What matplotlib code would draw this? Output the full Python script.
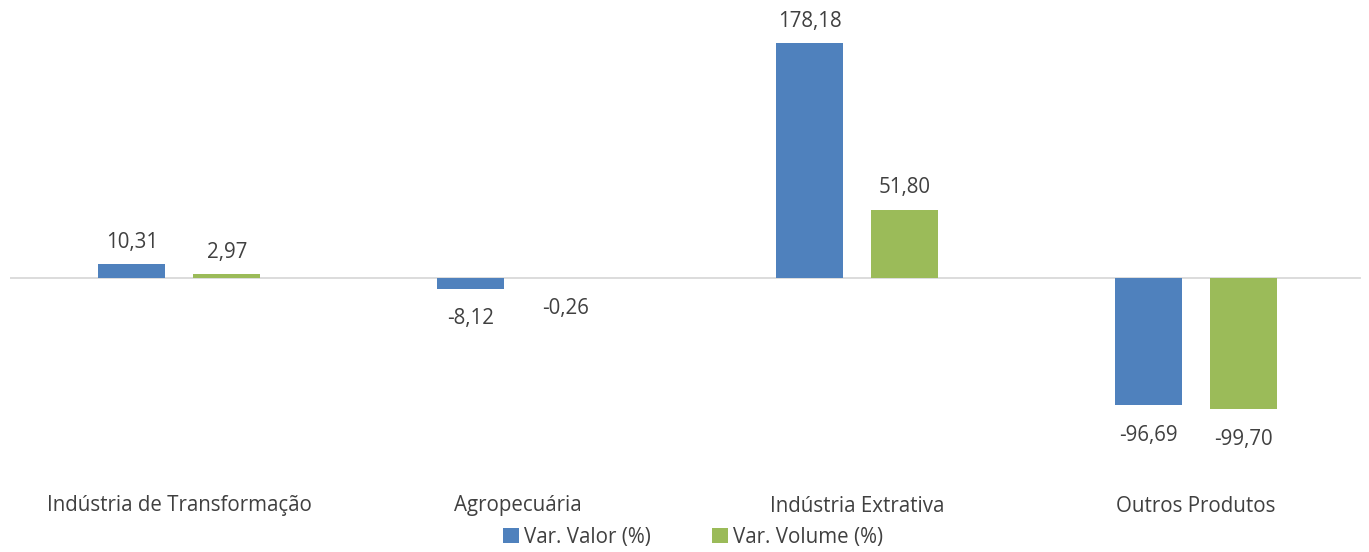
import matplotlib
matplotlib.use("Agg")
import matplotlib.pyplot as plt
import numpy as np

categories = ["Indústria de Transformação", "Agropecuária", "Indústria Extrativa", "Outros Produtos"]
var_valor = [10.31, -8.12, 178.18, -96.69]
var_volume = [2.97, -0.26, 51.80, -99.70]
series_names = ["Var. Valor (%)", "Var. Volume (%)"]

plt.rcParams['font.family'] = ['Open Sans', 'DejaVu Sans']
W, H = 1369, 552
fig = plt.figure(figsize=(W/100, H/100), dpi=100)
AX_L, AX_W = 10, 1355
ax = fig.add_axes([AX_L/W, 1-460/H, AX_W/W, 450/H])

x = np.arange(len(categories))
bw = 0.198
off = 0.14
blue = "#4F81BD"
green = "#9BBB59"
tc = "#404040"
b1 = ax.bar(x - off, var_valor, bw, color=blue, label=series_names[0], zorder=3)
b2 = ax.bar(x + off, var_volume, bw, color=green, label=series_names[1], zorder=3)
ax.set_xlim(-0.5, 3.5)
ax.set_ylim(-138, 203)
ax.plot([-0.5, 3.485], [0, 0], color="#D9D9D9", lw=1.3, zorder=2)
for s in ax.spines.values():
    s.set_visible(False)
ax.set_xticks([])
ax.set_yticks([])

fs = 14.8
for bars, vals in [(b1, var_valor), (b2, var_volume)]:
    for rect, v in zip(bars, vals):
        cx = rect.get_x() + rect.get_width()/2
        lbl = f"{v:.2f}".replace(".", ",")
        if v >= 0:
            ax.annotate(lbl, (cx, v), xytext=(0, 8), textcoords="offset points",
                        ha="center", va="bottom", fontsize=fs, color=tc)
        else:
            ax.annotate(lbl, (cx, v), xytext=(0, -14), textcoords="offset points",
                        ha="center", va="top", fontsize=fs, color=tc)

for xi, c in zip(x, categories):
    fig.text((AX_L + AX_W*(xi+0.5)/4)/W, 1-506/H, c, ha="center", va="center",
             fontsize=fs, color=tc)

leg = fig.legend(handles=[b1, b2], labels=series_names, loc="center",
                 bbox_to_anchor=(693/W, 1-537/H), ncol=2, frameon=False,
                 fontsize=fs, handlelength=0.75, handleheight=0.75,
                 handletextpad=0.25, columnspacing=3.0, labelcolor=tc)

fig.savefig("out.png", dpi=100)
